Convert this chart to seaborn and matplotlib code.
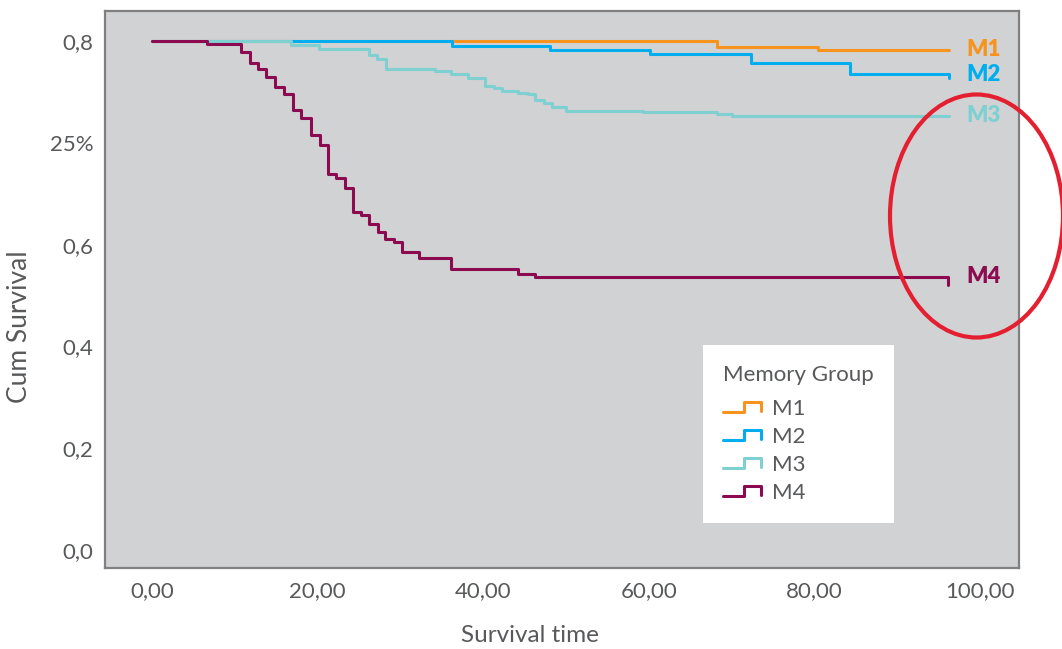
import matplotlib
matplotlib.use("Agg")
import matplotlib.pyplot as plt
import seaborn as sns
import pandas as pd
from matplotlib.lines import Line2D
from matplotlib.legend_handler import HandlerBase
from matplotlib.patches import Ellipse

# ---- data ----
groups = ["M1", "M2", "M3", "M4"]
colors = ["#f7941d", "#00aeef", "#7fd0d0", "#8c0a4f"]

m1_time = [0, 68.2, 80.4, 96.2]
m1_surv = [1.0, 0.989, 0.983, 0.983]

m2_time = [0, 36.2, 48.1, 60.1, 72.3, 84.3, 96.2, 96.2]
m2_surv = [1.0, 0.990, 0.982, 0.975, 0.956, 0.935, 0.935, 0.927]

m3_time = [0, 16.8, 20.2, 26.2, 27.2, 28.2, 34.2, 36.1, 38.1, 40.2, 41.3, 42.3,
           44.2, 45.4, 46.3, 47.3, 48.3, 50.0, 59.3, 68.2, 70.1, 96.2]
m3_surv = [1.0, 0.993, 0.985, 0.972, 0.965, 0.945, 0.941, 0.935, 0.928, 0.912, 0.907, 0.902,
           0.897, 0.895, 0.884, 0.879, 0.870, 0.863, 0.860, 0.857, 0.853, 0.853]

m4_time = [0, 6.6, 10.8, 11.8, 12.8, 13.8, 14.9, 15.9, 17.0, 18.0, 19.2, 20.3, 21.2, 22.2,
           23.3, 24.3, 25.2, 26.2, 27.3, 28.1, 29.2, 30.2, 32.2, 36.1, 44.2, 46.3, 96.1, 96.1]
m4_surv = [1.0, 0.994, 0.978, 0.956, 0.945, 0.930, 0.910, 0.896, 0.864, 0.848, 0.815, 0.796,
           0.738, 0.730, 0.711, 0.665, 0.659, 0.640, 0.625, 0.611, 0.605, 0.585, 0.573, 0.552,
           0.543, 0.537, 0.537, 0.521]

x_ticks = [0, 20, 40, 60, 80, 100]
x_tick_labels = ["0,00", "20,00", "40,00", "60,00", "80,00", "100,00"]
y_ticks = [0.0, 0.2, 0.4, 0.6, 0.8, 1.0]
y_tick_labels = ["0,0", "0,2", "0,4", "0,6", "25%", "0,8"]

times = [m1_time, m2_time, m3_time, m4_time]
survs = [m1_surv, m2_surv, m3_surv, m4_surv]

rows = []
for g, t, s in zip(groups, times, survs):
    for i, (ti, si) in enumerate(zip(t, s)):
        rows.append({"group": g, "time": ti, "surv": si, "order": i})
df = pd.DataFrame(rows)

# ---- style ----
sns.set_style("white")
plt.rcParams["font.family"] = ["Lato", "DejaVu Sans"]
text_color = "#58595b"
frame_color = "#808080"

fig = plt.figure(figsize=(10.62, 6.49), dpi=100)
ax = fig.add_axes([105 / 1062, 1 - 568 / 649, (1019 - 105) / 1062, (568 - 11) / 649])
ax.set_facecolor("#d1d2d4")

for g, c in zip(groups, colors):
    sub = df[df["group"] == g]
    sns.lineplot(data=sub, x="time", y="surv", sort=False, estimator=None,
                 drawstyle="steps-post", color=c, linewidth=2.2, ax=ax, label=g)

ax.set_xlim(-5.68, 104.7)
ax.set_ylim(-0.0354, 1.059)
ax.set_xticks(x_ticks)
ax.set_xticklabels(x_tick_labels)
ax.set_yticks(y_ticks)
ax.set_yticklabels(y_tick_labels)
ax.tick_params(axis="both", direction="in", length=9.5, width=1.5, color=frame_color,
               labelsize=16, labelcolor=text_color)
ax.tick_params(axis="x", pad=9.5)
ax.tick_params(axis="y", pad=8.5)
for sp in ax.spines.values():
    sp.set_color(frame_color)
    sp.set_linewidth(1.6)

ax.set_xlabel("Survival time", fontsize=17.5, color=text_color)
ax.set_ylabel("Cum Survival", fontsize=19, color=text_color)
ax.xaxis.set_label_coords(0.465, -0.102)
ax.yaxis.set_label_coords(-0.080, 0.433)

# right-hand group labels
label_y = [m1_surv[-1], m2_surv[-2], m3_surv[-1], m4_surv[-2]]
for g, c, yv in zip(groups, colors, label_y):
    ax.text(98.4, yv, g, color=c, fontsize=16, fontweight="heavy", va="center", ha="left")


class StepHandler(HandlerBase):
    def create_artists(self, legend, orig_handle, xdescent, ydescent, width, height,
                       fontsize, trans):
        x0, y0 = -xdescent, -ydescent
        xs = [x0, x0 + 0.55 * width, x0 + 0.55 * width, x0 + width, x0 + width]
        ys = [y0 + 0.2 * height, y0 + 0.2 * height, y0 + 0.85 * height,
              y0 + 0.85 * height, y0 + 0.25 * height]
        ln = Line2D(xs, ys, color=orig_handle.get_color(), linewidth=2.2)
        ln.set_transform(trans)
        return [ln]


handles = [Line2D([], [], color=c, linewidth=2.2) for c in colors]
leg = ax.legend(handles, groups, title="Memory Group", loc="upper left",
                bbox_to_anchor=((703 - 105) / 914, 1 - (345 - 11) / 557),
                frameon=True, fancybox=False, framealpha=1, facecolor="white",
                edgecolor="none", fontsize=16, title_fontsize=16,
                handler_map={Line2D: StepHandler()}, handlelength=1.7,
                handletextpad=0.5, labelspacing=0.36, borderpad=0.9,
                borderaxespad=0, alignment="left")
leg._legend_box.sep = 10
leg.get_frame().set_linewidth(0)
for t in leg.get_texts():
    t.set_color(text_color)
leg.get_title().set_color(text_color)

# red highlight ellipse
ell = Ellipse((976.5 / 1062, 1 - 216 / 649), 173 / 1062, 243 / 649,
              transform=fig.transFigure, fill=False, edgecolor="#e41f2f",
              linewidth=3, clip_on=False, zorder=10)
fig.patches.append(ell)

fig.savefig("out.png", dpi=100)
